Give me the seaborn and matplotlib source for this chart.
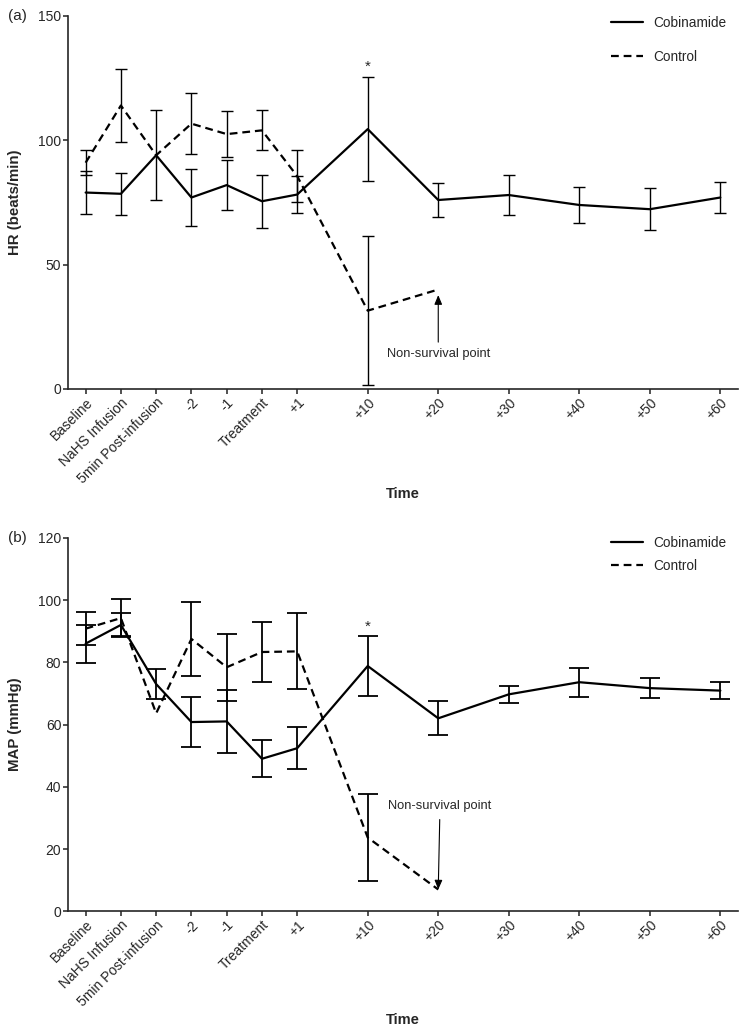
import numpy as np
import pandas as pd
import matplotlib
matplotlib.use("Agg")
import matplotlib.pyplot as plt
import seaborn as sns

time_labels = ["Baseline", "NaHS Infusion", "5min Post-infusion", "-2", "-1",
               "Treatment", "+1", "+10", "+20", "+30", "+40", "+50", "+60"]
# steps after +1 are drawn twice as wide as the early ones
time_pos = [0, 1, 2, 3, 4, 5, 6, 8, 10, 12, 14, 16, 18]

# (a) heart rate, mean and error
hr_cob = [79, 78.5, 94, 77, 82, 75.5, 78.2, 104.5, 76, 78, 74, 72.3, 77]
hr_cob_err = [8.5, 8.5, 18, 11.4, 10, 10.7, 7.4, 21, 7, 8, 7.3, 8.4, 6.3]
hr_ctrl = [91, 114, 94, 106.7, 102.5, 104, 85.6, 31.5, 40]
hr_ctrl_err = [5, 14.5, np.nan, 12.3, 9.2, 8, 10.5, 30, np.nan]

# (b) mean arterial pressure, mean and error
map_cob = [86, 92, 73, 60.8, 61, 49, 52.4, 78.8, 62, 69.7, 73.6, 71.7, 70.9]
map_cob_err = [6.1, 3.7, 4.8, 8, 10, 6, 6.7, 9.5, 5.5, 2.8, 4.6, 3.1, 2.7]
map_ctrl = [90.8, 94.2, 63.6, 87.5, 78.4, 83.3, 83.5, 23.7, 7]
map_ctrl_err = [5.2, 6, np.nan, 12, 10.7, 9.7, 12.2, 14, np.nan]

groups = ["Cobinamide", "Control"]

sns.set_style("ticks")
plt.rcParams['font.family'] = ['Liberation Sans', 'DejaVu Sans']
plt.rcParams['font.size'] = 10


def long_df(cob, ctrl):
    n = len(ctrl)
    return pd.DataFrame({
        "x": time_pos + time_pos[:n],
        "y": cob + ctrl,
        "group": [groups[0]] * len(cob) + [groups[1]] * n,
    })


def draw_panel(ax, cob, cob_err, ctrl, ctrl_err, ylim, yticks, ylabel,
               capsize, elw, leg_y, leg_space, xlab_y):
    df = long_df(cob, ctrl)
    sns.lineplot(data=df, x="x", y="y", style="group", style_order=groups,
                 dashes={"Cobinamide": "", "Control": (3.5, 2.2)},
                 color="black", linewidth=1.6, sort=False, errorbar=None, ax=ax)

    # error bars (no bar where the reference has none)
    for vals, errs in [(cob, cob_err), (ctrl, ctrl_err)]:
        xs = np.array(time_pos[:len(vals)], dtype=float)
        ys = np.array(vals, dtype=float)
        es = np.array(errs, dtype=float)
        ok = ~np.isnan(es)
        ax.errorbar(xs[ok], ys[ok], yerr=es[ok], fmt="none", ecolor="black",
                    elinewidth=elw, capsize=capsize, capthick=elw)

    ax.set_xlim(-0.5, 18.5)
    ax.set_ylim(*ylim)
    ax.set_yticks(yticks)
    ax.set_xticks(time_pos)
    ax.set_xticklabels(time_labels, rotation=45, ha="right", rotation_mode="anchor")
    ax.set_xlabel("Time", fontweight="bold", fontsize=10.5)
    ax.set_ylabel(ylabel, fontweight="bold", fontsize=10.8)
    ax.xaxis.set_label_coords(0.5, xlab_y)
    ax.yaxis.set_label_coords(-0.069, 0.5)
    ax.tick_params(axis="both", length=3.3, width=1.1, pad=1.5, labelsize=10,
                   color="#222222")
    for s in ["left", "bottom"]:
        ax.spines[s].set_linewidth(1.2)
    sns.despine(ax=ax)

    sns.move_legend(ax, "upper left", bbox_to_anchor=(0.81, leg_y), title=None,
                    frameon=False, borderpad=0, borderaxespad=0,
                    handlelength=2.4, handletextpad=0.7, labelspacing=leg_space,
                    fontsize=9.8)

    # significance mark over +10
    i10 = time_labels.index("+10")
    ax.annotate("*", (time_pos[i10], cob[i10] + cob_err[i10]), xytext=(0, 2),
                textcoords="offset points", ha="center", va="bottom", fontsize=11)


fig = plt.figure(figsize=(7.44, 10.31), dpi=100)
ax1 = fig.add_axes([0.0914, 0.6227, 0.9005, 0.3618])
ax2 = fig.add_axes([0.0914, 0.1161, 0.9005, 0.3623])

draw_panel(ax1, hr_cob, hr_cob_err, hr_ctrl, hr_ctrl_err, (0, 150), [0, 50, 100, 150],
           "HR (beats/min)", 4.5, 1.0, 1.0, 1.45, -0.263)
draw_panel(ax2, map_cob, map_cob_err, map_ctrl, map_ctrl_err, (0, 120),
           [0, 20, 40, 60, 80, 100, 120], "MAP (mmHg)", 7.5, 1.3, 1.005, 0.65, -0.273)

i20 = time_labels.index("+20")
ax1.annotate("Non-survival point", xy=(time_pos[i20], hr_ctrl[-1]),
             xytext=(time_pos[i20], 14), ha="center", va="center", fontsize=9.3,
             arrowprops=dict(arrowstyle="-|>,head_length=0.6,head_width=0.25",
                             color="black", lw=0.8, shrinkA=2, shrinkB=4))
ax2.annotate("Non-survival point", xy=(time_pos[i20], map_ctrl[-1]),
             xytext=(time_pos[i20] + 0.05, 33.8), ha="center", va="center", fontsize=9.3,
             arrowprops=dict(arrowstyle="-|>,head_length=0.6,head_width=0.25",
                             color="black", lw=0.8, shrinkA=3, shrinkB=0))

fig.text(0.011, 1 - 16 / 1031, "(a)", va="center", fontsize=11)
fig.text(0.011, 1 - 538 / 1031, "(b)", va="center", fontsize=11)

fig.savefig("out.png", dpi=100)
